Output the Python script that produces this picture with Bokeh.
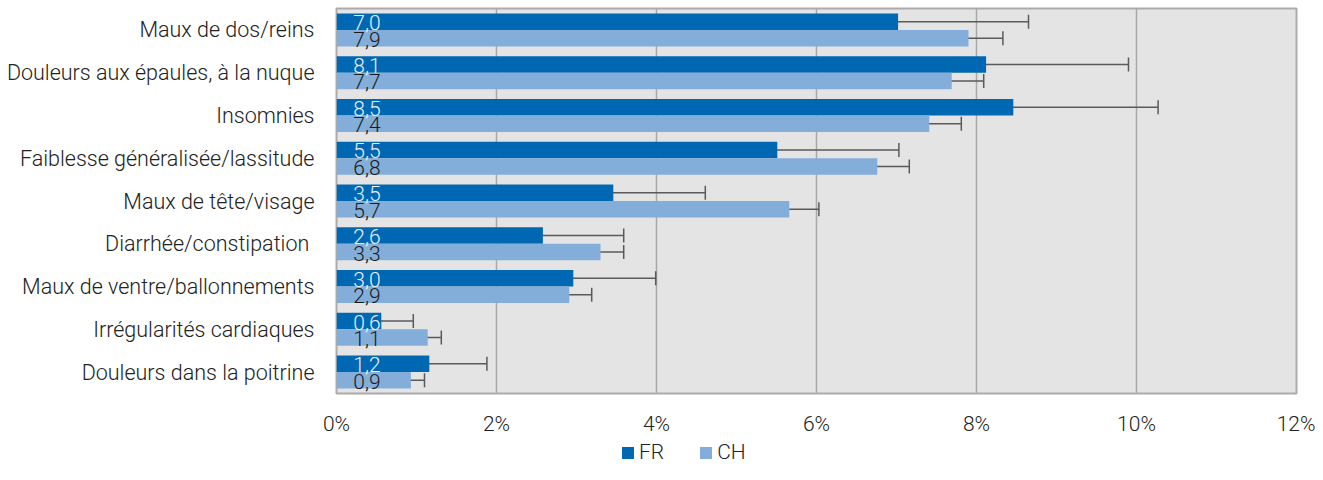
from bokeh.plotting import figure
from bokeh.layouts import column
from bokeh.models import (ColumnDataSource, FactorRange, Range1d, Whisker, TeeHead,
                          Legend, LegendItem, PrintfTickFormatter, FixedTicker)
from bokeh.transform import dodge
from bokeh.core.properties import value
from bokeh.embed import file_html
from bokeh.resources import INLINE

categories = ["Maux de dos/reins", "Douleurs aux épaules, à la nuque", "Insomnies",
              "Faiblesse généralisée/lassitude", "Maux de tête/visage",
              "Diarrhée/constipation ", "Maux de ventre/ballonnements",
              "Irrégularités cardiaques", "Douleurs dans la poitrine"]
fr = [7.02, 8.12, 8.46, 5.51, 3.46, 2.58, 2.96, 0.56, 1.16]
ch = [7.90, 7.69, 7.41, 6.76, 5.66, 3.30, 2.91, 1.14, 0.93]
fr_lo = [5.41, 6.35, 6.65, 4.00, 2.30, 1.55, 1.91, 0.13, 0.44]
fr_hi = [8.65, 9.90, 10.27, 7.03, 4.61, 3.59, 3.99, 0.96, 1.88]
ch_lo = [7.47, 7.27, 7.01, 6.35, 5.30, 3.02, 2.65, 0.96, 0.77]
ch_hi = [8.33, 8.09, 7.81, 7.16, 6.03, 3.59, 3.19, 1.31, 1.10]
x_ticks = [0, 2, 4, 6, 8, 10, 12]
series = ["FR", "CH"]

FR_COLOR = "#0068b2"
CH_COLOR = "#83aed9"
FONT = "'Roboto Light', Roboto"
TXT = "#222222"

def fmt(v):
    return f"{v:.1f}".replace(".", ",")

source = ColumnDataSource(dict(
    cat=categories, fr=fr, ch=ch, fr_lo=fr_lo, fr_hi=fr_hi, ch_lo=ch_lo, ch_hi=ch_hi,
    fr_lbl=[fmt(v) for v in fr], ch_lbl=[fmt(v) for v in ch],
))

p = figure(width=1315, height=438, output_backend="svg", toolbar_location=None,
           y_range=FactorRange(factors=list(reversed(categories))),
           x_range=Range1d(0, 12),
           min_border_left=336, min_border_right=19, min_border_top=8, min_border_bottom=37)
p.y_range.range_padding = 0

H = 0.386
D = 0.193
r_fr = p.hbar(y=dodge("cat", D, range=p.y_range), right="fr", left=0, height=H,
              source=source, fill_color=FR_COLOR, line_color=None)
r_ch = p.hbar(y=dodge("cat", -D, range=p.y_range), right="ch", left=0, height=H,
              source=source, fill_color=CH_COLOR, line_color=None)

LBL_X = 0.21
p.text(x=LBL_X, y=dodge("cat", D, range=p.y_range), text="fr_lbl", source=source,
       y_offset=1, text_baseline="middle", text_align="left",
       text_color="#e8f0fa", text_font=value(FONT), text_font_size="21px")
p.text(x=LBL_X, y=dodge("cat", -D, range=p.y_range), text="ch_lbl", source=source,
       y_offset=1, text_baseline="middle", text_align="left",
       text_color="#1a1a1a", text_font=value(FONT), text_font_size="21px")

for lo, hi, off in (("fr_lo", "fr_hi", D), ("ch_lo", "ch_hi", -D)):
    w = Whisker(source=source, base=dodge("cat", off, range=p.y_range), lower=lo, upper=hi,
                dimension="width", line_color="#5a5a5a", line_width=1.5,
                lower_head=TeeHead(size=14, line_color="#5a5a5a", line_width=1.5),
                upper_head=TeeHead(size=14, line_color="#5a5a5a", line_width=1.5))
    p.add_layout(w)

p.background_fill_color = "#e4e4e4"
p.border_fill_color = "white"
p.outline_line_color = "#ababab"
p.outline_line_width = 2
p.ygrid.grid_line_color = None
p.xgrid.grid_line_color = "#a8a8a8"
p.xgrid.grid_line_width = 1.5

p.xaxis.ticker = FixedTicker(ticks=x_ticks)
p.xaxis.formatter = PrintfTickFormatter(format="%d%%")
for ax in (p.xaxis[0], p.yaxis[0]):
    ax.axis_line_color = None
    ax.major_tick_line_color = None
    ax.minor_tick_line_color = None
    ax.major_label_text_font = FONT
    ax.major_label_text_color = TXT
p.xaxis.major_label_text_font_size = "21px"
p.yaxis.major_label_text_font_size = "21.5px"
p.xaxis.major_label_standoff = 12
p.yaxis.major_label_standoff = 16

# legend strip below the chart (its frame is aligned with the main frame by the column)
p2 = figure(width=1315, height=26, output_backend="svg", toolbar_location=None,
            x_axis_location=None, y_axis_location=None, min_border=0,
            x_range=Range1d(0, 1), y_range=Range1d(0, 1))
p2.outline_line_color = None
p2.grid.visible = False
p2.background_fill_color = "white"
# keys only: their single bar lies outside the strip's ranges and is never seen
key_src = ColumnDataSource(dict(y=[-5.0], left=[-5.0], right=[-4.0]))
d_fr = p2.hbar(y="y", left="left", right="right", height=1, source=key_src,
               fill_color=FR_COLOR, line_color=None)
d_ch = p2.hbar(y="y", left="left", right="right", height=1, source=key_src,
               fill_color=CH_COLOR, line_color=None)
legend = Legend(items=[LegendItem(label=series[0], renderers=[d_fr]),
                       LegendItem(label=series[1], renderers=[d_ch])],
                orientation="horizontal", location=(284, 0),
                glyph_width=15, glyph_height=15, label_standoff=4, spacing=34,
                label_text_font=FONT, label_text_font_size="21px",
                label_text_color=TXT, border_line_color=None,
                background_fill_alpha=0, padding=0, margin=0, label_height=20)
p2.add_layout(legend, "center")

layout = column(p, p2, spacing=0)
open("out.html", "w").write(file_html(layout, INLINE))
